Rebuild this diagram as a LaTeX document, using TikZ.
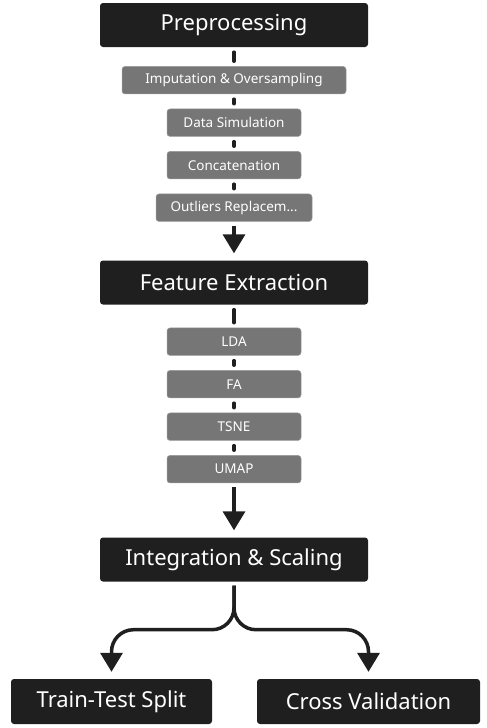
\documentclass[tikz,border=0pt]{standalone}
\usepackage{fontspec}
\setmainfont{Noto Sans}
\usetikzlibrary{positioning,arrows.meta}
\definecolor{ink}{HTML}{1F1F1F}
\definecolor{slate}{HTML}{767676}
\definecolor{rim}{HTML}{9A9A9A}

\begin{document}
\begin{tikzpicture}[x=1pt,y=-1pt,node distance=14.5pt,
  stage/.style={fill=ink,rounded corners=3pt,text=white,minimum height=44pt,
    minimum width=268pt,inner sep=0pt,font=\fontsize{22}{26}\selectfont},
  substep/.style={fill=slate,draw=rim,line width=0.5pt,rounded corners=3pt,text=white,
    minimum height=27.5pt,minimum width=134pt,inner sep=0pt,font=\fontsize{13.5}{16}\selectfont},
  link/.style={ink,line width=3.5pt,line cap=round,shorten <=5pt,shorten >=5pt},
  flow/.style={ink,line width=3.5pt,-{Triangle[length=19pt,width=22pt]},shorten <=4pt,shorten >=7pt}]
\useasboundingbox (0,0) rectangle (487,728);

% preprocessing block
\node[stage] (prep) at (234,25) {Preprocessing};
\node[substep,minimum width=224pt,below=19pt of prep] (imput) {Imputation \& Oversampling};
\node[substep,below=of imput] (simul) {Data Simulation};
\node[substep,below=of simul] (concat) {Concatenation};
\node[substep,minimum width=156pt,below=of concat] (outl) {Outliers Replacem...};

% feature extraction block
\node[stage] (feat) at (234,282.5) {Feature Extraction};
\node[substep,below=23pt of feat] (lda) {LDA};
\node[substep,below=of lda] (fa) {FA};
\node[substep,below=of fa] (tsne) {TSNE};
\node[substep,below=of tsne] (umap) {UMAP};

\node[stage] (integ) at (234,559.5) {Integration \& Scaling};
\node[stage,minimum width=201pt,minimum height=45pt] (split) at (111.5,701.5) {Train-Test Split};
\node[stage,minimum width=223pt,minimum height=45pt] (cross) at (368.5,701.5) {Cross Validation};

\draw[link] (prep) -- (imput);
\draw[link] (imput) -- (simul);
\draw[link] (simul) -- (concat);
\draw[link] (concat) -- (outl);
\draw[flow] (outl) -- (feat);
\draw[link] (feat) -- (lda);
\draw[link] (lda) -- (fa);
\draw[link] (fa) -- (tsne);
\draw[link] (tsne) -- (umap);
\draw[flow] (umap) -- (integ);
\draw[flow,rounded corners=22pt] (integ.south) -- ++(0,48) -| (split.north);
\draw[flow,rounded corners=22pt] (integ.south) -- ++(0,48) -| (cross.north);
\end{tikzpicture}
\end{document}
